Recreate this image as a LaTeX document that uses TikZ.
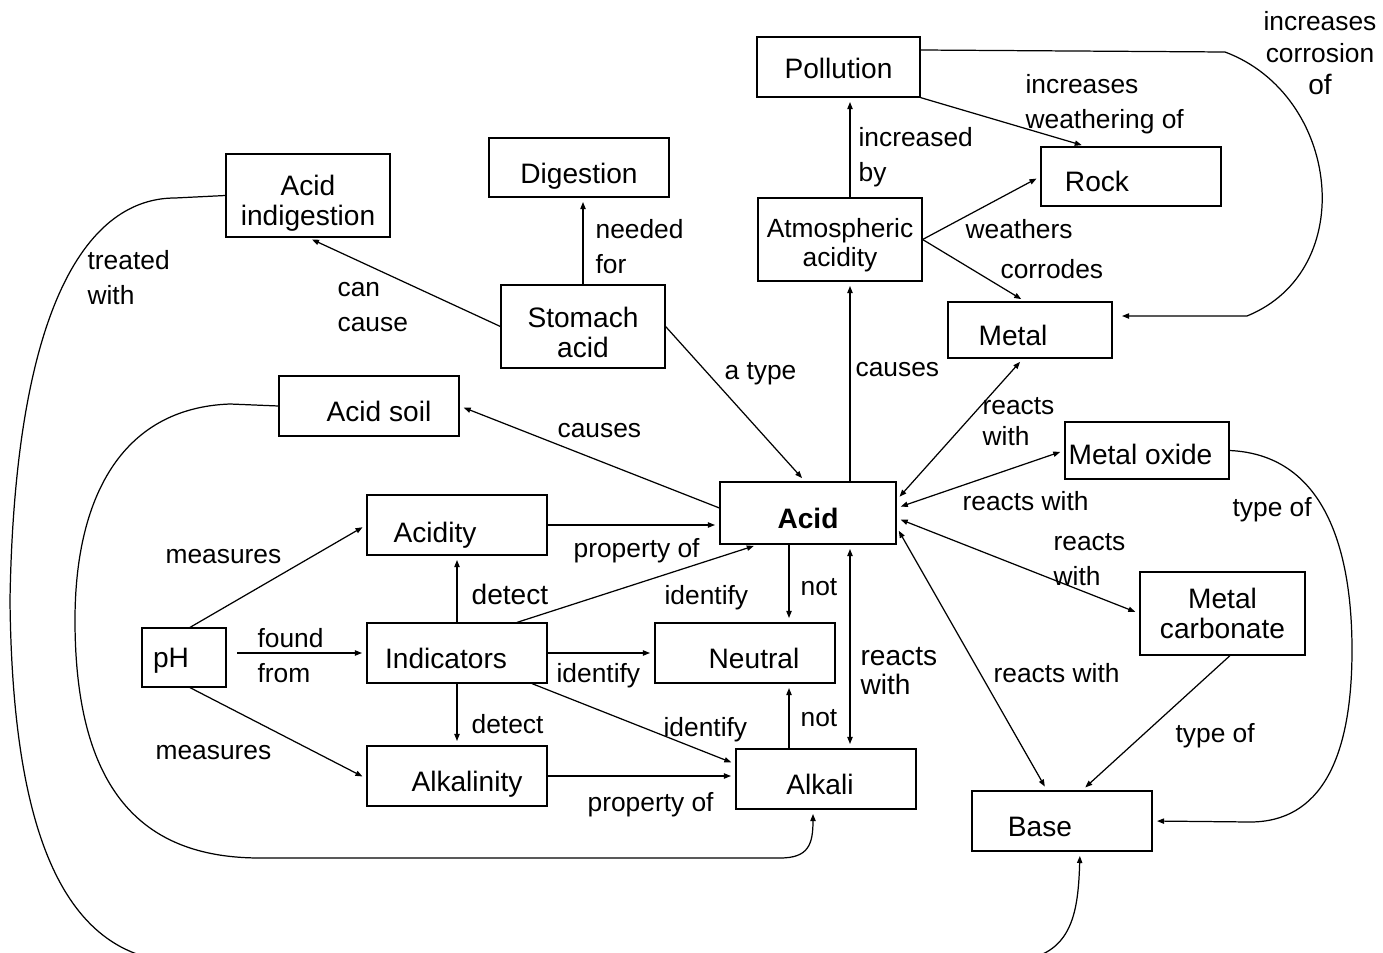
\documentclass[tikz,border=0pt]{standalone}
\usepackage{fontspec}
\setmainfont{Liberation Sans}
\usetikzlibrary{arrows.meta, positioning}
\newcommand{\boxfont}{\fontsize{16}{17}\selectfont}
\newcommand{\lblfont}{\fontsize{15}{20}\selectfont}

\begin{document}
\begin{tikzpicture}[x=0.02cm, y=-0.02cm, line width=0.7pt,
    concept/.style={draw, font=\boxfont, inner sep=1pt, minimum width=3.6cm, minimum height=1.2cm, text height=17.5pt, text depth=0pt},
    twoline/.style={draw, font=\boxfont, inner sep=1pt, align=center, minimum width=3.28cm, minimum height=1.66cm},
    lbl/.style={font=\lblfont, inner sep=0pt, anchor=west, align=left},
    oneLink/.style={-{Triangle[length=4pt,width=3pt]}, shorten >=2.5pt},
    biLink/.style={{Triangle[length=4pt,width=3pt]}-{Triangle[length=4pt,width=3pt]}, shorten >=2.5pt, shorten <=2.5pt}]
  \useasboundingbox (0,0) rectangle (1383,953);
  \clip (0,0) rectangle (1383,953);

  % concepts
  \node[concept, minimum width=3.26cm, text height=13pt] (pollution) at (838.5,67) {Pollution};
  \node[concept, minimum height=1.18cm, text height=18.5pt] (digestion) at (579,167.5) {Digestion};
  \node[twoline] (acidIndig) at (308,195.5) {\rule{0pt}{20.5pt}Acid\\indigestion};
  \node[concept, minimum height=1.18cm] (rock) at (1131,176.5) {Rock\hspace*{1.36cm}};
  \node[twoline, font=\fontsize{15}{17}\selectfont] (atmos) at (840,239.5) {\rule{0pt}{17.4pt}Atmospheric\\acidity};
  \node[twoline] (stomach) at (583,326.5) {\rule{0pt}{18.3pt}Stomach\\acid};
  \node[concept, minimum width=3.28cm, minimum height=1.12cm, text height=18pt] (metal) at (1030,330) {Metal\hspace*{0.68cm}};
  \node[concept, text height=18pt] (acidSoil) at (369,406) {\hspace*{0.4cm}Acid soil};
  \node[concept, inner sep=0pt, minimum width=3.28cm, minimum height=1.14cm, text height=15.5pt] (metalOxide) at (1147,450.5) {Metal oxide\hspace*{0.26cm}};
  \node[concept, font=\boxfont\bfseries, minimum width=3.52cm, minimum height=1.24cm] (acid) at (808,513) {Acid};
  \node[concept, text height=19.5pt] (acidity) at (457,525) {Acidity\hspace*{0.88cm}};
  \node[twoline, minimum width=3.3cm] (metalCarb) at (1222.5,613.5) {Metal\\carbonate};
  \node[concept, minimum width=1.68cm, minimum height=1.18cm, text height=11.5pt] (pH) at (184,657.5) {pH\hspace*{0.52cm}};
  \node[concept] (indicators) at (457,653) {Indicators\hspace*{0.44cm}};
  \node[concept] (neutral) at (745,653) {\hspace*{0.36cm}Neutral};
  \node[concept] (alkalinity) at (457,776) {\hspace*{0.4cm}Alkalinity};
  \node[concept, text height=18pt] (alkali) at (826,779) {Alkali\hspace*{0.24cm}};
  \node[concept, text height=18pt] (base) at (1062,821) {Base\hspace*{0.88cm}};

  % links
  \draw[oneLink] (pollution.south east) -- ([xshift=-0.9cm]rock.north);
  \draw[oneLink] ([yshift=0.34cm]pollution.east) -- (1225,52) .. controls (1340,95) and (1360,270) .. (1247,316) -- ([xshift=0.1cm,yshift=0.28cm]metal.east);
  \draw[oneLink] ([xshift=0.2cm]atmos.north) -- ([xshift=0.2cm]atmos.north |- pollution.south);
  \draw[oneLink] (atmos.east) -- (rock.west);
  \draw[oneLink] (atmos.east) -- ([xshift=-0.1cm]metal.north);
  \draw[oneLink] ([xshift=0.84cm]acid.north) -- ([xshift=0.84cm]acid.north |- atmos.south);
  \draw[oneLink] (stomach.north) -- (stomach.north |- digestion.south);
  \draw[oneLink] (stomach.west) -- (acidIndig.south);
  \draw[oneLink] (stomach.east) -- ([xshift=-0.06cm]acid.north);
  \draw[oneLink] ([yshift=0.1cm]acid.west) -- (acidSoil.east);
  \draw[oneLink] (acidIndig.west) -- (175,198) .. controls (90,198) and (15,300) .. (10,600) .. controls (12,800) and (50,958) .. (180,962) -- (1000,962) .. controls (1070,962) and (1078,920) .. ([xshift=0.36cm]base.south);
  \draw[oneLink] (acidSoil.west) -- (230,404) .. controls (120,408) and (75,500) .. (75,620) .. controls (75,800) and (150,858) .. (260,858) -- (780,858) .. controls (808,858) and (813,845) .. ([xshift=-0.26cm]alkali.south);
  \draw[oneLink] ([xshift=0.12cm]pH.north) -- (acidity.west);
  \draw[oneLink, shorten <=6pt] (pH.east |- indicators.west) -- (indicators.west);
  \draw[oneLink] ([xshift=0.12cm]pH.south) -- ([yshift=-0.05cm]alkalinity.west);
  \draw[oneLink] (indicators.north) -- (indicators.north |- acidity.south);
  \draw[oneLink] (indicators.south) -- (indicators.south |- alkalinity.north);
  \draw[oneLink] ([xshift=1.2cm]indicators.north) -- ([xshift=-1cm]acid.south);
  \draw[oneLink] (indicators.east) -- (neutral.west);
  \draw[oneLink] ([xshift=1.5cm]indicators.south) -- ([yshift=0.3cm]alkali.west);
  \draw[oneLink] (acidity.east) -- (acidity.east -| acid.west);
  \draw[oneLink] (alkalinity.east) -- (alkalinity.east -| alkali.west);
  \draw[oneLink] ([xshift=-0.38cm]acid.south) -- ([xshift=-0.38cm]acid.south |- neutral.north);
  \draw[oneLink] ([xshift=-0.74cm]alkali.north) -- ([xshift=-0.74cm]alkali.north |- neutral.south);
  \draw[biLink] ([xshift=0.84cm]acid.south) -- ([xshift=0.84cm]acid.south |- alkali.north);
  \draw[biLink] ([yshift=0.26cm]acid.east) -- ([xshift=-0.14cm]metal.south);
  \draw[biLink] ([yshift=0.1cm]acid.east) -- (metalOxide.west);
  \draw[biLink] ([yshift=-0.1cm]acid.east) -- (metalCarb.west);
  \draw[biLink] ([yshift=-0.28cm]acid.east) -- ([xshift=-0.3cm]base.north);
  \draw[oneLink] ([xshift=0.15cm]metalCarb.south) -- ([xshift=0.4cm]base.north);
  \draw[oneLink] (metalOxide.east) .. controls (1330,455) and (1352,560) .. (1352,650) .. controls (1352,760) and (1320,822) .. (1250,822) -- (base.east);

  % link labels
  \node[lbl] (lWeathering) at (1025,104.5) {increases\\weathering of};
  \node[lbl, anchor=center, align=center, font=\fontsize{15}{18}\selectfont] (lCorrosion) at (1320,53) {increases\\corrosion\\{\fontsize{16}{20}\selectfont of}};
  \node[lbl] (lIncreased) at (858,157) {increased\\by};
  \node[lbl] (lWeathers) at (965,229) {weathers};
  \node[lbl] (lCorrodes) at (1000,269) {corrodes};
  \node[lbl] (lCausesAtm) at (855,370) {causes};
  \node[lbl] (lNeeded) at (595,246.5) {needed\\for};
  \node[lbl] (lCanCause) at (337,307) {can\\cause};
  \node[lbl] (lType) at (724,374) {a type};
  \node[lbl] (lCausesSoil) at (557,431) {causes};
  \node[lbl] (lTreated) at (87,277.5) {treated\\with};
  \node[lbl] (lMeasuresUp) at (165,557) {measures};
  \node[lbl] (lFound) at (257,656) {found\\from};
  \node[lbl] (lMeasuresDn) at (155,753) {measures};
  \node[lbl, font=\boxfont] (lDetectUp) at (471,594) {detect};
  \node[lbl] (lDetectDn) at (471,724) {detect};
  \node[lbl] (lIdentAcid) at (664,598) {identify};
  \node[lbl] (lIdentNeutral) at (556,676) {identify};
  \node[lbl] (lIdentAlkali) at (663,730) {identify};
  \node[lbl] (lPropUp) at (573,551) {property of};
  \node[lbl] (lPropDn) at (587,805) {property of};
  \node[lbl] (lNotUp) at (800,587) {not};
  \node[lbl] (lNotDn) at (800,718) {not};
  \node[lbl, font=\boxfont] (lReactsAlkali) at (860,671) {reacts\\with};
  \node[lbl, font=\fontsize{15}{18}\selectfont] (lReactsMetal) at (982,421.5) {reacts\\with};
  \node[lbl] (lReactsOxide) at (962,501) {reacts with};
  \node[lbl] (lReactsCarb) at (1053,559.5) {reacts\\with};
  \node[lbl] (lReactsBase) at (993,673) {reacts with};
  \node[lbl] (lTypeCarb) at (1175,736) {type of};
  \node[lbl] (lTypeOxide) at (1232,510) {type of};
\end{tikzpicture}
\end{document}
